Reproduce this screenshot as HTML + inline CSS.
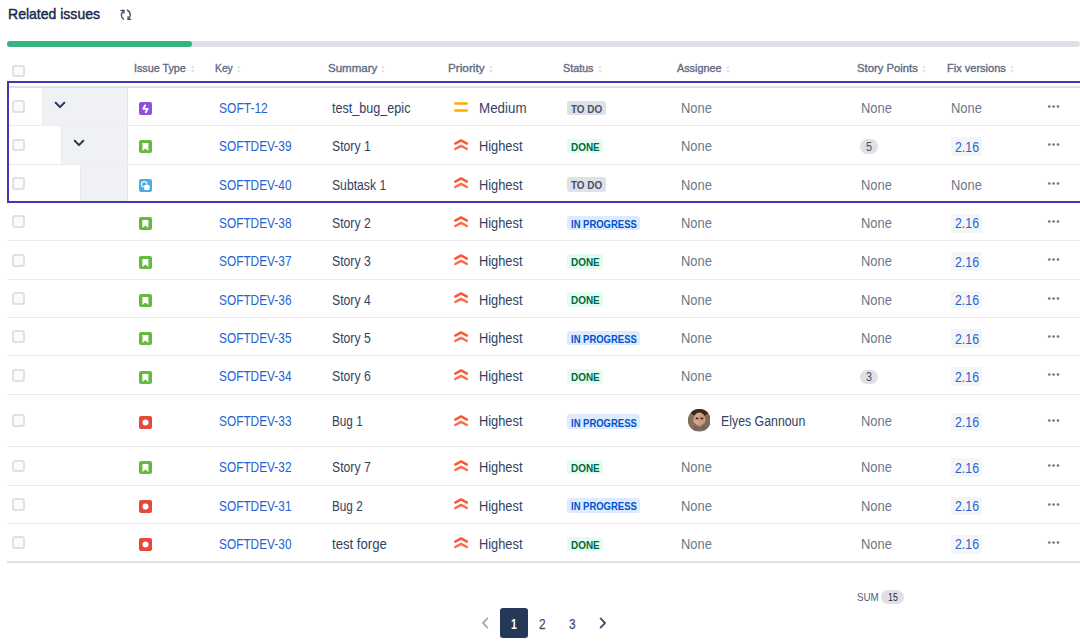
<!DOCTYPE html>
<html><head><meta charset="utf-8"><title>Related issues</title>
<style>
html,body{margin:0;padding:0;background:#fff;}
body{width:1080px;height:642px;overflow:hidden;position:relative;font-family:"Liberation Sans", sans-serif;}
.t{position:absolute;white-space:nowrap;transform-origin:0 0;}
.b{position:absolute;}
</style></head><body>
<div class="t" style="left:7.60px;top:4.60px;font-size:15px;line-height:17px;color:#172b4d;font-weight:normal;transform:scaleX(0.935);-webkit-text-stroke:0.45px #172b4d;">Related issues</div>
<svg class="b" style="left:119px;top:8px" width="14" height="14" viewBox="0 0 14 14">
<g fill="none" stroke="#42526e" stroke-width="1.35" stroke-linecap="round" stroke-linejoin="round">
<path d="M2 2.4 H4.9 V5"/>
<path d="M4.9 2.4 Q2.2 4.6 2.4 7.5 Q2.6 9.8 4.5 11.2"/>
<path d="M8.3 2.1 Q11.3 3.9 11.3 7 Q11.2 9.4 9.1 11.3"/>
<path d="M9.1 8.7 V11.4 H11.7"/>
</g></svg>
<div class="b" style="left:7.00px;top:41.00px;width:1073.00px;height:6.00px;background:#dfe1e6;border-radius:3px;"></div>
<div class="b" style="left:7.00px;top:41.00px;width:185.00px;height:6.00px;background:#36b37e;border-radius:3px;"></div>
<div class="t" style="left:134.30px;top:62.00px;font-size:11px;line-height:12px;color:#5e6c84;font-weight:normal;transform:scaleX(0.977);-webkit-text-stroke:0.35px #5e6c84;">Issue Type</div>
<svg class="b" style="left:190.7px;top:63.5px" width="4" height="10" viewBox="0 0 4 10"><path d="M0.2 4.3 L2 1.5 L3.8 4.3 Z M0.2 6.3 L2 9 L3.8 6.3 Z" fill="#dcdfe4"/></svg>
<div class="t" style="left:215.00px;top:62.00px;font-size:11px;line-height:12px;color:#5e6c84;font-weight:normal;transform:scaleX(0.938);-webkit-text-stroke:0.35px #5e6c84;">Key</div>
<svg class="b" style="left:236.8px;top:63.5px" width="4" height="10" viewBox="0 0 4 10"><path d="M0.2 4.3 L2 1.5 L3.8 4.3 Z M0.2 6.3 L2 9 L3.8 6.3 Z" fill="#dcdfe4"/></svg>
<div class="t" style="left:327.80px;top:62.00px;font-size:11px;line-height:12px;color:#5e6c84;font-weight:normal;transform:scaleX(1.048);-webkit-text-stroke:0.35px #5e6c84;">Summary</div>
<svg class="b" style="left:381.0px;top:63.5px" width="4" height="10" viewBox="0 0 4 10"><path d="M0.2 4.3 L2 1.5 L3.8 4.3 Z M0.2 6.3 L2 9 L3.8 6.3 Z" fill="#dcdfe4"/></svg>
<div class="t" style="left:448.20px;top:62.00px;font-size:11px;line-height:12px;color:#5e6c84;font-weight:normal;transform:scaleX(1.069);-webkit-text-stroke:0.35px #5e6c84;">Priority</div>
<svg class="b" style="left:489.2px;top:63.5px" width="4" height="10" viewBox="0 0 4 10"><path d="M0.2 4.3 L2 1.5 L3.8 4.3 Z M0.2 6.3 L2 9 L3.8 6.3 Z" fill="#dcdfe4"/></svg>
<div class="t" style="left:563.20px;top:62.00px;font-size:11px;line-height:12px;color:#5e6c84;font-weight:normal;transform:scaleX(0.978);-webkit-text-stroke:0.35px #5e6c84;">Status</div>
<svg class="b" style="left:597.5px;top:63.5px" width="4" height="10" viewBox="0 0 4 10"><path d="M0.2 4.3 L2 1.5 L3.8 4.3 Z M0.2 6.3 L2 9 L3.8 6.3 Z" fill="#dcdfe4"/></svg>
<div class="t" style="left:677.00px;top:62.00px;font-size:11px;line-height:12px;color:#5e6c84;font-weight:normal;transform:scaleX(0.983);-webkit-text-stroke:0.35px #5e6c84;">Assignee</div>
<svg class="b" style="left:725.8px;top:63.5px" width="4" height="10" viewBox="0 0 4 10"><path d="M0.2 4.3 L2 1.5 L3.8 4.3 Z M0.2 6.3 L2 9 L3.8 6.3 Z" fill="#dcdfe4"/></svg>
<div class="t" style="left:857.00px;top:62.00px;font-size:11px;line-height:12px;color:#5e6c84;font-weight:normal;transform:scaleX(1.025);-webkit-text-stroke:0.35px #5e6c84;">Story Points</div>
<svg class="b" style="left:921.7px;top:63.5px" width="4" height="10" viewBox="0 0 4 10"><path d="M0.2 4.3 L2 1.5 L3.8 4.3 Z M0.2 6.3 L2 9 L3.8 6.3 Z" fill="#dcdfe4"/></svg>
<div class="t" style="left:947.00px;top:62.00px;font-size:11px;line-height:12px;color:#5e6c84;font-weight:normal;transform:scaleX(1.002);-webkit-text-stroke:0.35px #5e6c84;">Fix versions</div>
<svg class="b" style="left:1009.7px;top:63.5px" width="4" height="10" viewBox="0 0 4 10"><path d="M0.2 4.3 L2 1.5 L3.8 4.3 Z M0.2 6.3 L2 9 L3.8 6.3 Z" fill="#dcdfe4"/></svg>
<div class="b" style="left:12.00px;top:64.50px;width:12.80px;height:12.80px;background:#fafbfc;border:2px solid #dfe1e6;border-radius:3px;box-sizing:border-box;"></div>
<div class="b" style="left:7.00px;top:86.00px;width:1073.00px;height:2.00px;background:#dfe1e6;"></div>
<div class="b" style="left:42.00px;top:87.95px;width:85.00px;height:37.35px;background:#f0f1f4;border-left:1px solid #e9eaee;box-sizing:border-box;"></div>
<div class="b" style="left:127.00px;top:87.95px;width:1.00px;height:37.35px;background:#e4e5ea;"></div>
<svg class="b" style="left:54.0px;top:100.72px" width="12" height="10" viewBox="0 0 12 10"><path d="M1.7 1.7 L6 6.1 L10.3 1.7" fill="none" stroke="#253858" stroke-width="2" stroke-linecap="round" stroke-linejoin="round"/></svg>
<div class="b" style="left:12.00px;top:100.33px;width:12.80px;height:12.80px;background:#fafbfc;border:2px solid #dfe1e6;border-radius:3px;box-sizing:border-box;"></div>
<svg class="b" style="left:139px;top:102.12px" width="13" height="13" viewBox="0 0 13 13"><rect width="13" height="13" rx="2" fill="#904ee2"/><path d="M6.1 3.4 L4.3 6.9 H8.6 L6.8 10.2" fill="none" stroke="#fff" stroke-width="1.9" stroke-linejoin="round" stroke-linecap="round"/></svg>
<div class="t" style="left:218.50px;top:99.83px;font-size:14px;line-height:16px;color:#2563d0;font-weight:normal;transform:scaleX(0.859);">SOFT-12</div>
<div class="t" style="left:332.20px;top:99.83px;font-size:14px;line-height:16px;color:#31425f;font-weight:normal;transform:scaleX(0.9);">test_bug_epic</div>
<svg class="b" style="left:454px;top:100.62px" width="14" height="12" viewBox="0 0 14 12"><path d="M1.3 2.6 H12.7 M1.3 9.4 H12.7" stroke="#ffab00" stroke-width="2.5" stroke-linecap="round"/></svg>
<div class="t" style="left:478.50px;top:99.83px;font-size:14px;line-height:16px;color:#31425f;font-weight:normal;transform:scaleX(0.954);">Medium</div>
<div class="b" style="left:567.20px;top:100.53px;width:39.00px;height:14.60px;background:#dfe1e6;border-radius:3px;"></div>
<div class="t" style="left:570.90px;top:103.73px;font-size:10px;line-height:11px;color:#42526e;font-weight:bold;transform:scaleX(0.991);">TO DO</div>
<div class="t" style="left:681.30px;top:99.83px;font-size:14px;line-height:16px;color:#6b778c;font-weight:normal;transform:scaleX(0.923);">None</div>
<div class="t" style="left:861.40px;top:99.83px;font-size:14px;line-height:16px;color:#6b778c;font-weight:normal;transform:scaleX(0.923);">None</div>
<div class="t" style="left:951.40px;top:99.83px;font-size:14px;line-height:16px;color:#6b778c;font-weight:normal;transform:scaleX(0.923);">None</div>
<svg class="b" style="left:1046px;top:103.83px" width="15" height="5" viewBox="0 0 15 5"><g fill="#6b778c"><circle cx="3.3" cy="2.5" r="1.35"/><circle cx="7.6" cy="2.5" r="1.35"/><circle cx="12" cy="2.5" r="1.35"/></g></svg>
<div class="b" style="left:7.00px;top:125.30px;width:1073.00px;height:1.00px;background:#ebecf0;"></div>
<div class="b" style="left:61.00px;top:126.30px;width:66.00px;height:37.35px;background:#f0f1f4;border-left:1px solid #e9eaee;box-sizing:border-box;"></div>
<div class="b" style="left:127.00px;top:126.30px;width:1.00px;height:37.35px;background:#e4e5ea;"></div>
<svg class="b" style="left:73.0px;top:139.08px" width="12" height="10" viewBox="0 0 12 10"><path d="M1.7 1.7 L6 6.1 L10.3 1.7" fill="none" stroke="#253858" stroke-width="2" stroke-linecap="round" stroke-linejoin="round"/></svg>
<div class="b" style="left:12.00px;top:138.68px;width:12.80px;height:12.80px;background:#fafbfc;border:2px solid #dfe1e6;border-radius:3px;box-sizing:border-box;"></div>
<svg class="b" style="left:139px;top:140.48px" width="13" height="13" viewBox="0 0 13 13"><rect width="13" height="13" rx="2" fill="#63ba3c"/><path d="M3.4 3.1 H9.4 V10.9 L6.4 8.6 L3.4 10.9 Z" fill="#fff"/></svg>
<div class="t" style="left:218.50px;top:138.18px;font-size:14px;line-height:16px;color:#2563d0;font-weight:normal;transform:scaleX(0.847);">SOFTDEV-39</div>
<div class="t" style="left:332.20px;top:138.18px;font-size:14px;line-height:16px;color:#31425f;font-weight:normal;transform:scaleX(0.872);">Story 1</div>
<svg class="b" style="left:454px;top:138.98px" width="14" height="12" viewBox="0 0 14 12"><g fill="none" stroke-width="2.4" stroke-linecap="round" stroke-linejoin="round"><path d="M1.3 4.6 L7.1 1.4 L12.9 4.6" stroke="#ff5630"/><path d="M1.3 10 L7.1 6.9 L12.9 10" stroke="#ff6a47"/></g></svg>
<div class="t" style="left:478.80px;top:138.18px;font-size:14px;line-height:16px;color:#31425f;font-weight:normal;transform:scaleX(0.916);">Highest</div>
<div class="b" style="left:567.20px;top:138.88px;width:36.30px;height:14.60px;background:#e3fcef;border-radius:3px;"></div>
<div class="t" style="left:571.10px;top:142.07px;font-size:10px;line-height:11px;color:#006644;font-weight:bold;transform:scaleX(0.993);">DONE</div>
<div class="t" style="left:681.30px;top:138.18px;font-size:14px;line-height:16px;color:#6b778c;font-weight:normal;transform:scaleX(0.923);">None</div>
<div class="b" style="left:860.40px;top:139.48px;width:17.60px;height:14.40px;background:#dfe1e6;border-radius:7.2px;"></div>
<div class="t" style="left:865.80px;top:140.08px;font-size:12px;line-height:14px;color:#42526e;font-weight:normal;transform:scaleX(0.9);">5</div>
<div class="b" style="left:950.70px;top:137.18px;width:31.00px;height:18.70px;background:#f4f5f7;border-radius:3px;"></div>
<div class="t" style="left:955.00px;top:138.78px;font-size:14px;line-height:16px;color:#2563d0;font-weight:normal;transform:scaleX(0.881);">2.16</div>
<svg class="b" style="left:1046px;top:142.18px" width="15" height="5" viewBox="0 0 15 5"><g fill="#6b778c"><circle cx="3.3" cy="2.5" r="1.35"/><circle cx="7.6" cy="2.5" r="1.35"/><circle cx="12" cy="2.5" r="1.35"/></g></svg>
<div class="b" style="left:7.00px;top:163.65px;width:1073.00px;height:1.00px;background:#ebecf0;"></div>
<div class="b" style="left:80.00px;top:164.65px;width:47.00px;height:37.35px;background:#f0f1f4;border-left:1px solid #e9eaee;box-sizing:border-box;"></div>
<div class="b" style="left:127.00px;top:164.65px;width:1.00px;height:37.35px;background:#e4e5ea;"></div>
<div class="b" style="left:12.00px;top:177.03px;width:12.80px;height:12.80px;background:#fafbfc;border:2px solid #dfe1e6;border-radius:3px;box-sizing:border-box;"></div>
<svg class="b" style="left:139px;top:178.83px" width="13" height="13" viewBox="0 0 13 13"><rect width="13" height="13" rx="2" fill="#4bade8"/><rect x="2.6" y="2.9" width="5.2" height="4.8" rx="1.4" fill="none" stroke="#fff" stroke-width="1.1"/><rect x="5.2" y="5.9" width="5.4" height="5.1" rx="1" fill="#fff"/></svg>
<div class="t" style="left:218.50px;top:176.53px;font-size:14px;line-height:16px;color:#2563d0;font-weight:normal;transform:scaleX(0.847);">SOFTDEV-40</div>
<div class="t" style="left:332.20px;top:176.53px;font-size:14px;line-height:16px;color:#31425f;font-weight:normal;transform:scaleX(0.87);">Subtask 1</div>
<svg class="b" style="left:454px;top:177.33px" width="14" height="12" viewBox="0 0 14 12"><g fill="none" stroke-width="2.4" stroke-linecap="round" stroke-linejoin="round"><path d="M1.3 4.6 L7.1 1.4 L12.9 4.6" stroke="#ff5630"/><path d="M1.3 10 L7.1 6.9 L12.9 10" stroke="#ff6a47"/></g></svg>
<div class="t" style="left:478.80px;top:176.53px;font-size:14px;line-height:16px;color:#31425f;font-weight:normal;transform:scaleX(0.916);">Highest</div>
<div class="b" style="left:567.20px;top:177.22px;width:39.00px;height:14.60px;background:#dfe1e6;border-radius:3px;"></div>
<div class="t" style="left:570.90px;top:180.42px;font-size:10px;line-height:11px;color:#42526e;font-weight:bold;transform:scaleX(0.991);">TO DO</div>
<div class="t" style="left:681.30px;top:176.53px;font-size:14px;line-height:16px;color:#6b778c;font-weight:normal;transform:scaleX(0.923);">None</div>
<div class="t" style="left:861.40px;top:176.53px;font-size:14px;line-height:16px;color:#6b778c;font-weight:normal;transform:scaleX(0.923);">None</div>
<div class="t" style="left:951.40px;top:176.53px;font-size:14px;line-height:16px;color:#6b778c;font-weight:normal;transform:scaleX(0.923);">None</div>
<svg class="b" style="left:1046px;top:180.53px" width="15" height="5" viewBox="0 0 15 5"><g fill="#6b778c"><circle cx="3.3" cy="2.5" r="1.35"/><circle cx="7.6" cy="2.5" r="1.35"/><circle cx="12" cy="2.5" r="1.35"/></g></svg>
<div class="b" style="left:7.00px;top:202.00px;width:1073.00px;height:1.00px;background:#ebecf0;"></div>
<div class="b" style="left:12.00px;top:215.38px;width:12.80px;height:12.80px;background:#fafbfc;border:2px solid #dfe1e6;border-radius:3px;box-sizing:border-box;"></div>
<svg class="b" style="left:139px;top:217.18px" width="13" height="13" viewBox="0 0 13 13"><rect width="13" height="13" rx="2" fill="#63ba3c"/><path d="M3.4 3.1 H9.4 V10.9 L6.4 8.6 L3.4 10.9 Z" fill="#fff"/></svg>
<div class="t" style="left:218.50px;top:214.88px;font-size:14px;line-height:16px;color:#2563d0;font-weight:normal;transform:scaleX(0.847);">SOFTDEV-38</div>
<div class="t" style="left:332.20px;top:214.88px;font-size:14px;line-height:16px;color:#31425f;font-weight:normal;transform:scaleX(0.872);">Story 2</div>
<svg class="b" style="left:454px;top:215.68px" width="14" height="12" viewBox="0 0 14 12"><g fill="none" stroke-width="2.4" stroke-linecap="round" stroke-linejoin="round"><path d="M1.3 4.6 L7.1 1.4 L12.9 4.6" stroke="#ff5630"/><path d="M1.3 10 L7.1 6.9 L12.9 10" stroke="#ff6a47"/></g></svg>
<div class="t" style="left:478.80px;top:214.88px;font-size:14px;line-height:16px;color:#31425f;font-weight:normal;transform:scaleX(0.916);">Highest</div>
<div class="b" style="left:567.20px;top:215.57px;width:72.90px;height:14.60px;background:#deebff;border-radius:3px;"></div>
<div class="t" style="left:571.10px;top:218.77px;font-size:10px;line-height:11px;color:#0052cc;font-weight:bold;transform:scaleX(0.947);">IN PROGRESS</div>
<div class="t" style="left:681.30px;top:214.88px;font-size:14px;line-height:16px;color:#6b778c;font-weight:normal;transform:scaleX(0.923);">None</div>
<div class="t" style="left:861.40px;top:214.88px;font-size:14px;line-height:16px;color:#6b778c;font-weight:normal;transform:scaleX(0.923);">None</div>
<div class="b" style="left:950.70px;top:213.88px;width:31.00px;height:18.70px;background:#f4f5f7;border-radius:3px;"></div>
<div class="t" style="left:955.00px;top:215.48px;font-size:14px;line-height:16px;color:#2563d0;font-weight:normal;transform:scaleX(0.881);">2.16</div>
<svg class="b" style="left:1046px;top:218.88px" width="15" height="5" viewBox="0 0 15 5"><g fill="#6b778c"><circle cx="3.3" cy="2.5" r="1.35"/><circle cx="7.6" cy="2.5" r="1.35"/><circle cx="12" cy="2.5" r="1.35"/></g></svg>
<div class="b" style="left:7.00px;top:240.35px;width:1073.00px;height:1.00px;background:#ebecf0;"></div>
<div class="b" style="left:12.00px;top:253.72px;width:12.80px;height:12.80px;background:#fafbfc;border:2px solid #dfe1e6;border-radius:3px;box-sizing:border-box;"></div>
<svg class="b" style="left:139px;top:255.52px" width="13" height="13" viewBox="0 0 13 13"><rect width="13" height="13" rx="2" fill="#63ba3c"/><path d="M3.4 3.1 H9.4 V10.9 L6.4 8.6 L3.4 10.9 Z" fill="#fff"/></svg>
<div class="t" style="left:218.50px;top:253.22px;font-size:14px;line-height:16px;color:#2563d0;font-weight:normal;transform:scaleX(0.847);">SOFTDEV-37</div>
<div class="t" style="left:332.20px;top:253.22px;font-size:14px;line-height:16px;color:#31425f;font-weight:normal;transform:scaleX(0.872);">Story 3</div>
<svg class="b" style="left:454px;top:254.02px" width="14" height="12" viewBox="0 0 14 12"><g fill="none" stroke-width="2.4" stroke-linecap="round" stroke-linejoin="round"><path d="M1.3 4.6 L7.1 1.4 L12.9 4.6" stroke="#ff5630"/><path d="M1.3 10 L7.1 6.9 L12.9 10" stroke="#ff6a47"/></g></svg>
<div class="t" style="left:478.80px;top:253.22px;font-size:14px;line-height:16px;color:#31425f;font-weight:normal;transform:scaleX(0.916);">Highest</div>
<div class="b" style="left:567.20px;top:253.92px;width:36.30px;height:14.60px;background:#e3fcef;border-radius:3px;"></div>
<div class="t" style="left:571.10px;top:257.12px;font-size:10px;line-height:11px;color:#006644;font-weight:bold;transform:scaleX(0.993);">DONE</div>
<div class="t" style="left:681.30px;top:253.22px;font-size:14px;line-height:16px;color:#6b778c;font-weight:normal;transform:scaleX(0.923);">None</div>
<div class="t" style="left:861.40px;top:253.22px;font-size:14px;line-height:16px;color:#6b778c;font-weight:normal;transform:scaleX(0.923);">None</div>
<div class="b" style="left:950.70px;top:252.22px;width:31.00px;height:18.70px;background:#f4f5f7;border-radius:3px;"></div>
<div class="t" style="left:955.00px;top:253.82px;font-size:14px;line-height:16px;color:#2563d0;font-weight:normal;transform:scaleX(0.881);">2.16</div>
<svg class="b" style="left:1046px;top:257.22px" width="15" height="5" viewBox="0 0 15 5"><g fill="#6b778c"><circle cx="3.3" cy="2.5" r="1.35"/><circle cx="7.6" cy="2.5" r="1.35"/><circle cx="12" cy="2.5" r="1.35"/></g></svg>
<div class="b" style="left:7.00px;top:278.70px;width:1073.00px;height:1.00px;background:#ebecf0;"></div>
<div class="b" style="left:12.00px;top:292.07px;width:12.80px;height:12.80px;background:#fafbfc;border:2px solid #dfe1e6;border-radius:3px;box-sizing:border-box;"></div>
<svg class="b" style="left:139px;top:293.88px" width="13" height="13" viewBox="0 0 13 13"><rect width="13" height="13" rx="2" fill="#63ba3c"/><path d="M3.4 3.1 H9.4 V10.9 L6.4 8.6 L3.4 10.9 Z" fill="#fff"/></svg>
<div class="t" style="left:218.50px;top:291.57px;font-size:14px;line-height:16px;color:#2563d0;font-weight:normal;transform:scaleX(0.847);">SOFTDEV-36</div>
<div class="t" style="left:332.20px;top:291.57px;font-size:14px;line-height:16px;color:#31425f;font-weight:normal;transform:scaleX(0.872);">Story 4</div>
<svg class="b" style="left:454px;top:292.38px" width="14" height="12" viewBox="0 0 14 12"><g fill="none" stroke-width="2.4" stroke-linecap="round" stroke-linejoin="round"><path d="M1.3 4.6 L7.1 1.4 L12.9 4.6" stroke="#ff5630"/><path d="M1.3 10 L7.1 6.9 L12.9 10" stroke="#ff6a47"/></g></svg>
<div class="t" style="left:478.80px;top:291.57px;font-size:14px;line-height:16px;color:#31425f;font-weight:normal;transform:scaleX(0.916);">Highest</div>
<div class="b" style="left:567.20px;top:292.27px;width:36.30px;height:14.60px;background:#e3fcef;border-radius:3px;"></div>
<div class="t" style="left:571.10px;top:295.47px;font-size:10px;line-height:11px;color:#006644;font-weight:bold;transform:scaleX(0.993);">DONE</div>
<div class="t" style="left:681.30px;top:291.57px;font-size:14px;line-height:16px;color:#6b778c;font-weight:normal;transform:scaleX(0.923);">None</div>
<div class="t" style="left:861.40px;top:291.57px;font-size:14px;line-height:16px;color:#6b778c;font-weight:normal;transform:scaleX(0.923);">None</div>
<div class="b" style="left:950.70px;top:290.57px;width:31.00px;height:18.70px;background:#f4f5f7;border-radius:3px;"></div>
<div class="t" style="left:955.00px;top:292.18px;font-size:14px;line-height:16px;color:#2563d0;font-weight:normal;transform:scaleX(0.881);">2.16</div>
<svg class="b" style="left:1046px;top:295.57px" width="15" height="5" viewBox="0 0 15 5"><g fill="#6b778c"><circle cx="3.3" cy="2.5" r="1.35"/><circle cx="7.6" cy="2.5" r="1.35"/><circle cx="12" cy="2.5" r="1.35"/></g></svg>
<div class="b" style="left:7.00px;top:317.05px;width:1073.00px;height:1.00px;background:#ebecf0;"></div>
<div class="b" style="left:12.00px;top:330.43px;width:12.80px;height:12.80px;background:#fafbfc;border:2px solid #dfe1e6;border-radius:3px;box-sizing:border-box;"></div>
<svg class="b" style="left:139px;top:332.23px" width="13" height="13" viewBox="0 0 13 13"><rect width="13" height="13" rx="2" fill="#63ba3c"/><path d="M3.4 3.1 H9.4 V10.9 L6.4 8.6 L3.4 10.9 Z" fill="#fff"/></svg>
<div class="t" style="left:218.50px;top:329.93px;font-size:14px;line-height:16px;color:#2563d0;font-weight:normal;transform:scaleX(0.847);">SOFTDEV-35</div>
<div class="t" style="left:332.20px;top:329.93px;font-size:14px;line-height:16px;color:#31425f;font-weight:normal;transform:scaleX(0.872);">Story 5</div>
<svg class="b" style="left:454px;top:330.73px" width="14" height="12" viewBox="0 0 14 12"><g fill="none" stroke-width="2.4" stroke-linecap="round" stroke-linejoin="round"><path d="M1.3 4.6 L7.1 1.4 L12.9 4.6" stroke="#ff5630"/><path d="M1.3 10 L7.1 6.9 L12.9 10" stroke="#ff6a47"/></g></svg>
<div class="t" style="left:478.80px;top:329.93px;font-size:14px;line-height:16px;color:#31425f;font-weight:normal;transform:scaleX(0.916);">Highest</div>
<div class="b" style="left:567.20px;top:330.62px;width:72.90px;height:14.60px;background:#deebff;border-radius:3px;"></div>
<div class="t" style="left:571.10px;top:333.82px;font-size:10px;line-height:11px;color:#0052cc;font-weight:bold;transform:scaleX(0.947);">IN PROGRESS</div>
<div class="t" style="left:681.30px;top:329.93px;font-size:14px;line-height:16px;color:#6b778c;font-weight:normal;transform:scaleX(0.923);">None</div>
<div class="t" style="left:861.40px;top:329.93px;font-size:14px;line-height:16px;color:#6b778c;font-weight:normal;transform:scaleX(0.923);">None</div>
<div class="b" style="left:950.70px;top:328.93px;width:31.00px;height:18.70px;background:#f4f5f7;border-radius:3px;"></div>
<div class="t" style="left:955.00px;top:330.53px;font-size:14px;line-height:16px;color:#2563d0;font-weight:normal;transform:scaleX(0.881);">2.16</div>
<svg class="b" style="left:1046px;top:333.93px" width="15" height="5" viewBox="0 0 15 5"><g fill="#6b778c"><circle cx="3.3" cy="2.5" r="1.35"/><circle cx="7.6" cy="2.5" r="1.35"/><circle cx="12" cy="2.5" r="1.35"/></g></svg>
<div class="b" style="left:7.00px;top:355.40px;width:1073.00px;height:1.00px;background:#ebecf0;"></div>
<div class="b" style="left:12.00px;top:368.78px;width:12.80px;height:12.80px;background:#fafbfc;border:2px solid #dfe1e6;border-radius:3px;box-sizing:border-box;"></div>
<svg class="b" style="left:139px;top:370.58px" width="13" height="13" viewBox="0 0 13 13"><rect width="13" height="13" rx="2" fill="#63ba3c"/><path d="M3.4 3.1 H9.4 V10.9 L6.4 8.6 L3.4 10.9 Z" fill="#fff"/></svg>
<div class="t" style="left:218.50px;top:368.28px;font-size:14px;line-height:16px;color:#2563d0;font-weight:normal;transform:scaleX(0.847);">SOFTDEV-34</div>
<div class="t" style="left:332.20px;top:368.28px;font-size:14px;line-height:16px;color:#31425f;font-weight:normal;transform:scaleX(0.872);">Story 6</div>
<svg class="b" style="left:454px;top:369.08px" width="14" height="12" viewBox="0 0 14 12"><g fill="none" stroke-width="2.4" stroke-linecap="round" stroke-linejoin="round"><path d="M1.3 4.6 L7.1 1.4 L12.9 4.6" stroke="#ff5630"/><path d="M1.3 10 L7.1 6.9 L12.9 10" stroke="#ff6a47"/></g></svg>
<div class="t" style="left:478.80px;top:368.28px;font-size:14px;line-height:16px;color:#31425f;font-weight:normal;transform:scaleX(0.916);">Highest</div>
<div class="b" style="left:567.20px;top:368.98px;width:36.30px;height:14.60px;background:#e3fcef;border-radius:3px;"></div>
<div class="t" style="left:571.10px;top:372.18px;font-size:10px;line-height:11px;color:#006644;font-weight:bold;transform:scaleX(0.993);">DONE</div>
<div class="t" style="left:681.30px;top:368.28px;font-size:14px;line-height:16px;color:#6b778c;font-weight:normal;transform:scaleX(0.923);">None</div>
<div class="b" style="left:860.40px;top:369.58px;width:17.60px;height:14.40px;background:#dfe1e6;border-radius:7.2px;"></div>
<div class="t" style="left:865.80px;top:370.18px;font-size:12px;line-height:14px;color:#42526e;font-weight:normal;transform:scaleX(0.9);">3</div>
<div class="b" style="left:950.70px;top:367.28px;width:31.00px;height:18.70px;background:#f4f5f7;border-radius:3px;"></div>
<div class="t" style="left:955.00px;top:368.88px;font-size:14px;line-height:16px;color:#2563d0;font-weight:normal;transform:scaleX(0.881);">2.16</div>
<svg class="b" style="left:1046px;top:372.28px" width="15" height="5" viewBox="0 0 15 5"><g fill="#6b778c"><circle cx="3.3" cy="2.5" r="1.35"/><circle cx="7.6" cy="2.5" r="1.35"/><circle cx="12" cy="2.5" r="1.35"/></g></svg>
<div class="b" style="left:7.00px;top:393.75px;width:1073.00px;height:1.00px;background:#ebecf0;"></div>
<div class="b" style="left:12.00px;top:414.23px;width:12.80px;height:12.80px;background:#fafbfc;border:2px solid #dfe1e6;border-radius:3px;box-sizing:border-box;"></div>
<svg class="b" style="left:139px;top:416.03px" width="13" height="13" viewBox="0 0 13 13"><rect width="13" height="13" rx="2" fill="#e5493a"/><circle cx="6.5" cy="6.6" r="3" fill="#fff"/></svg>
<div class="t" style="left:218.50px;top:413.32px;font-size:14px;line-height:16px;color:#2563d0;font-weight:normal;transform:scaleX(0.847);">SOFTDEV-33</div>
<div class="t" style="left:332.20px;top:413.32px;font-size:14px;line-height:16px;color:#31425f;font-weight:normal;transform:scaleX(0.839);">Bug 1</div>
<svg class="b" style="left:454px;top:414.53px" width="14" height="12" viewBox="0 0 14 12"><g fill="none" stroke-width="2.4" stroke-linecap="round" stroke-linejoin="round"><path d="M1.3 4.6 L7.1 1.4 L12.9 4.6" stroke="#ff5630"/><path d="M1.3 10 L7.1 6.9 L12.9 10" stroke="#ff6a47"/></g></svg>
<div class="t" style="left:478.80px;top:413.32px;font-size:14px;line-height:16px;color:#31425f;font-weight:normal;transform:scaleX(0.916);">Highest</div>
<div class="b" style="left:567.20px;top:414.43px;width:72.90px;height:14.60px;background:#deebff;border-radius:3px;"></div>
<div class="t" style="left:571.10px;top:417.62px;font-size:10px;line-height:11px;color:#0052cc;font-weight:bold;transform:scaleX(0.947);">IN PROGRESS</div>
<svg class="b" style="left:687.8px;top:409.23px" width="22.6" height="22.6" viewBox="0 0 22.6 22.6"><defs><clipPath id="avc"><circle cx="11.3" cy="11.3" r="11.3"/></clipPath></defs><g clip-path="url(#avc)"><rect width="22.6" height="22.6" fill="#6f5847"/><ellipse cx="4" cy="12" rx="4" ry="8" fill="#85705e"/><ellipse cx="19" cy="12" rx="4" ry="8" fill="#7d6a58"/><ellipse cx="11.6" cy="3.2" rx="8.5" ry="4.2" fill="#3e281c"/><ellipse cx="11.4" cy="11" rx="6" ry="7.4" fill="#d6a58c"/><ellipse cx="13.5" cy="10.5" rx="3" ry="6" fill="#c98f72" opacity="0.6"/><ellipse cx="9" cy="9.4" rx="1.6" ry="0.95" fill="#3b2a24"/><ellipse cx="13.9" cy="9.4" rx="1.6" ry="0.95" fill="#3b2a24"/><path d="M5.6 13 Q6.5 20 11.4 20.5 Q16.3 20 17.2 13 Q14 16.5 11.4 16.4 Q8.8 16.5 5.6 13Z" fill="#7e6657" opacity="0.85"/><ellipse cx="11.4" cy="16.3" rx="1.9" ry="0.9" fill="#c48583"/><rect x="0" y="19.6" width="22.6" height="3" fill="#75706e"/></g></svg>
<div class="t" style="left:720.60px;top:413.32px;font-size:14px;line-height:16px;color:#31425f;font-weight:normal;transform:scaleX(0.881);">Elyes Gannoun</div>
<div class="t" style="left:861.40px;top:413.32px;font-size:14px;line-height:16px;color:#6b778c;font-weight:normal;transform:scaleX(0.923);">None</div>
<div class="b" style="left:950.70px;top:412.73px;width:31.00px;height:18.70px;background:#f4f5f7;border-radius:3px;"></div>
<div class="t" style="left:955.00px;top:413.93px;font-size:14px;line-height:16px;color:#2563d0;font-weight:normal;transform:scaleX(0.881);">2.16</div>
<svg class="b" style="left:1046px;top:417.73px" width="15" height="5" viewBox="0 0 15 5"><g fill="#6b778c"><circle cx="3.3" cy="2.5" r="1.35"/><circle cx="7.6" cy="2.5" r="1.35"/><circle cx="12" cy="2.5" r="1.35"/></g></svg>
<div class="b" style="left:7.00px;top:446.30px;width:1073.00px;height:1.00px;background:#ebecf0;"></div>
<div class="b" style="left:12.00px;top:459.68px;width:12.80px;height:12.80px;background:#fafbfc;border:2px solid #dfe1e6;border-radius:3px;box-sizing:border-box;"></div>
<svg class="b" style="left:139px;top:461.48px" width="13" height="13" viewBox="0 0 13 13"><rect width="13" height="13" rx="2" fill="#63ba3c"/><path d="M3.4 3.1 H9.4 V10.9 L6.4 8.6 L3.4 10.9 Z" fill="#fff"/></svg>
<div class="t" style="left:218.50px;top:459.18px;font-size:14px;line-height:16px;color:#2563d0;font-weight:normal;transform:scaleX(0.847);">SOFTDEV-32</div>
<div class="t" style="left:332.20px;top:459.18px;font-size:14px;line-height:16px;color:#31425f;font-weight:normal;transform:scaleX(0.872);">Story 7</div>
<svg class="b" style="left:454px;top:459.98px" width="14" height="12" viewBox="0 0 14 12"><g fill="none" stroke-width="2.4" stroke-linecap="round" stroke-linejoin="round"><path d="M1.3 4.6 L7.1 1.4 L12.9 4.6" stroke="#ff5630"/><path d="M1.3 10 L7.1 6.9 L12.9 10" stroke="#ff6a47"/></g></svg>
<div class="t" style="left:478.80px;top:459.18px;font-size:14px;line-height:16px;color:#31425f;font-weight:normal;transform:scaleX(0.916);">Highest</div>
<div class="b" style="left:567.20px;top:459.88px;width:36.30px;height:14.60px;background:#e3fcef;border-radius:3px;"></div>
<div class="t" style="left:571.10px;top:463.08px;font-size:10px;line-height:11px;color:#006644;font-weight:bold;transform:scaleX(0.993);">DONE</div>
<div class="t" style="left:681.30px;top:459.18px;font-size:14px;line-height:16px;color:#6b778c;font-weight:normal;transform:scaleX(0.923);">None</div>
<div class="t" style="left:861.40px;top:459.18px;font-size:14px;line-height:16px;color:#6b778c;font-weight:normal;transform:scaleX(0.923);">None</div>
<div class="b" style="left:950.70px;top:458.18px;width:31.00px;height:18.70px;background:#f4f5f7;border-radius:3px;"></div>
<div class="t" style="left:955.00px;top:459.78px;font-size:14px;line-height:16px;color:#2563d0;font-weight:normal;transform:scaleX(0.881);">2.16</div>
<svg class="b" style="left:1046px;top:463.18px" width="15" height="5" viewBox="0 0 15 5"><g fill="#6b778c"><circle cx="3.3" cy="2.5" r="1.35"/><circle cx="7.6" cy="2.5" r="1.35"/><circle cx="12" cy="2.5" r="1.35"/></g></svg>
<div class="b" style="left:7.00px;top:484.65px;width:1073.00px;height:1.00px;background:#ebecf0;"></div>
<div class="b" style="left:12.00px;top:498.03px;width:12.80px;height:12.80px;background:#fafbfc;border:2px solid #dfe1e6;border-radius:3px;box-sizing:border-box;"></div>
<svg class="b" style="left:139px;top:499.83px" width="13" height="13" viewBox="0 0 13 13"><rect width="13" height="13" rx="2" fill="#e5493a"/><circle cx="6.5" cy="6.6" r="3" fill="#fff"/></svg>
<div class="t" style="left:218.50px;top:497.53px;font-size:14px;line-height:16px;color:#2563d0;font-weight:normal;transform:scaleX(0.847);">SOFTDEV-31</div>
<div class="t" style="left:332.20px;top:497.53px;font-size:14px;line-height:16px;color:#31425f;font-weight:normal;transform:scaleX(0.839);">Bug 2</div>
<svg class="b" style="left:454px;top:498.33px" width="14" height="12" viewBox="0 0 14 12"><g fill="none" stroke-width="2.4" stroke-linecap="round" stroke-linejoin="round"><path d="M1.3 4.6 L7.1 1.4 L12.9 4.6" stroke="#ff5630"/><path d="M1.3 10 L7.1 6.9 L12.9 10" stroke="#ff6a47"/></g></svg>
<div class="t" style="left:478.80px;top:497.53px;font-size:14px;line-height:16px;color:#31425f;font-weight:normal;transform:scaleX(0.916);">Highest</div>
<div class="b" style="left:567.20px;top:498.23px;width:72.90px;height:14.60px;background:#deebff;border-radius:3px;"></div>
<div class="t" style="left:571.10px;top:501.43px;font-size:10px;line-height:11px;color:#0052cc;font-weight:bold;transform:scaleX(0.947);">IN PROGRESS</div>
<div class="t" style="left:681.30px;top:497.53px;font-size:14px;line-height:16px;color:#6b778c;font-weight:normal;transform:scaleX(0.923);">None</div>
<div class="t" style="left:861.40px;top:497.53px;font-size:14px;line-height:16px;color:#6b778c;font-weight:normal;transform:scaleX(0.923);">None</div>
<div class="b" style="left:950.70px;top:496.53px;width:31.00px;height:18.70px;background:#f4f5f7;border-radius:3px;"></div>
<div class="t" style="left:955.00px;top:498.13px;font-size:14px;line-height:16px;color:#2563d0;font-weight:normal;transform:scaleX(0.881);">2.16</div>
<svg class="b" style="left:1046px;top:501.53px" width="15" height="5" viewBox="0 0 15 5"><g fill="#6b778c"><circle cx="3.3" cy="2.5" r="1.35"/><circle cx="7.6" cy="2.5" r="1.35"/><circle cx="12" cy="2.5" r="1.35"/></g></svg>
<div class="b" style="left:7.00px;top:523.00px;width:1073.00px;height:1.00px;background:#ebecf0;"></div>
<div class="b" style="left:12.00px;top:536.38px;width:12.80px;height:12.80px;background:#fafbfc;border:2px solid #dfe1e6;border-radius:3px;box-sizing:border-box;"></div>
<svg class="b" style="left:139px;top:538.18px" width="13" height="13" viewBox="0 0 13 13"><rect width="13" height="13" rx="2" fill="#e5493a"/><circle cx="6.5" cy="6.6" r="3" fill="#fff"/></svg>
<div class="t" style="left:218.50px;top:535.88px;font-size:14px;line-height:16px;color:#2563d0;font-weight:normal;transform:scaleX(0.847);">SOFTDEV-30</div>
<div class="t" style="left:332.20px;top:535.88px;font-size:14px;line-height:16px;color:#31425f;font-weight:normal;transform:scaleX(0.94);">test forge</div>
<svg class="b" style="left:454px;top:536.68px" width="14" height="12" viewBox="0 0 14 12"><g fill="none" stroke-width="2.4" stroke-linecap="round" stroke-linejoin="round"><path d="M1.3 4.6 L7.1 1.4 L12.9 4.6" stroke="#ff5630"/><path d="M1.3 10 L7.1 6.9 L12.9 10" stroke="#ff6a47"/></g></svg>
<div class="t" style="left:478.80px;top:535.88px;font-size:14px;line-height:16px;color:#31425f;font-weight:normal;transform:scaleX(0.916);">Highest</div>
<div class="b" style="left:567.20px;top:536.58px;width:36.30px;height:14.60px;background:#e3fcef;border-radius:3px;"></div>
<div class="t" style="left:571.10px;top:539.78px;font-size:10px;line-height:11px;color:#006644;font-weight:bold;transform:scaleX(0.993);">DONE</div>
<div class="t" style="left:681.30px;top:535.88px;font-size:14px;line-height:16px;color:#6b778c;font-weight:normal;transform:scaleX(0.923);">None</div>
<div class="t" style="left:861.40px;top:535.88px;font-size:14px;line-height:16px;color:#6b778c;font-weight:normal;transform:scaleX(0.923);">None</div>
<div class="b" style="left:950.70px;top:534.88px;width:31.00px;height:18.70px;background:#f4f5f7;border-radius:3px;"></div>
<div class="t" style="left:955.00px;top:536.48px;font-size:14px;line-height:16px;color:#2563d0;font-weight:normal;transform:scaleX(0.881);">2.16</div>
<svg class="b" style="left:1046px;top:539.88px" width="15" height="5" viewBox="0 0 15 5"><g fill="#6b778c"><circle cx="3.3" cy="2.5" r="1.35"/><circle cx="7.6" cy="2.5" r="1.35"/><circle cx="12" cy="2.5" r="1.35"/></g></svg>
<div class="b" style="left:7.00px;top:561.35px;width:1073.00px;height:2.00px;background:#dfe1e6;"></div>
<div class="b" style="left:7.00px;top:81.00px;width:1080.00px;height:122.00px;background:transparent;border:2px solid #4337b3;box-sizing:border-box;"></div>
<div class="t" style="left:857.10px;top:590.80px;font-size:11px;line-height:12px;color:#505f79;font-weight:normal;transform:scaleX(0.89);">SUM</div>
<div class="b" style="left:881.10px;top:589.70px;width:22.70px;height:14.70px;background:#dfe1e6;border-radius:7.5px;"></div>
<div class="t" style="left:888.30px;top:590.80px;font-size:11px;line-height:12px;color:#172b4d;font-weight:normal;transform:scaleX(0.8);">15</div>
<svg class="b" style="left:480px;top:616px" width="10" height="14" viewBox="0 0 10 14"><path d="M7.4 2.4 L3 7 L7.4 11.6" fill="none" stroke="#a5adba" stroke-width="1.9" stroke-linecap="round" stroke-linejoin="round"/></svg>
<div class="b" style="left:500.00px;top:608.20px;width:27.80px;height:30.00px;background:#253858;border-radius:3px;"></div>
<div class="t" style="left:510.90px;top:616.40px;font-size:14px;line-height:16px;color:#ffffff;font-weight:bold;transform:scaleX(0.75);">1</div>
<div class="t" style="left:539.30px;top:616.40px;font-size:14px;line-height:16px;color:#42526e;font-weight:normal;transform:scaleX(0.85);-webkit-text-stroke:0.25px #42526e;">2</div>
<div class="t" style="left:569.20px;top:616.40px;font-size:14px;line-height:16px;color:#42526e;font-weight:normal;transform:scaleX(0.85);-webkit-text-stroke:0.25px #42526e;">3</div>
<svg class="b" style="left:598px;top:616px" width="10" height="14" viewBox="0 0 10 14"><path d="M2.6 2.4 L7 7 L2.6 11.6" fill="none" stroke="#42526e" stroke-width="1.9" stroke-linecap="round" stroke-linejoin="round"/></svg>
</body></html>
